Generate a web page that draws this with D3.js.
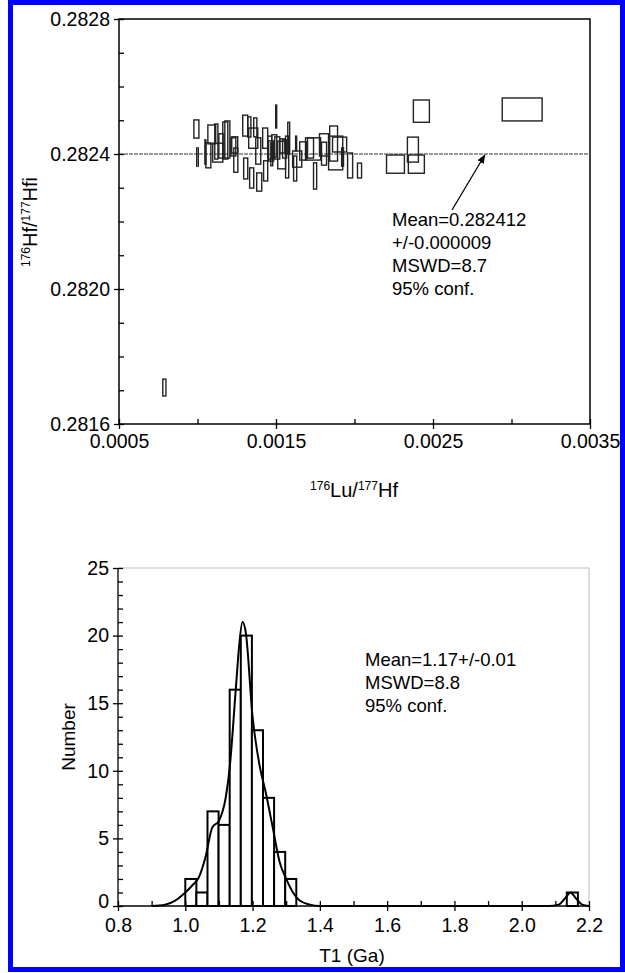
<!DOCTYPE html>
<html>
<head>
<meta charset="utf-8">
<script src="https://cdn.jsdelivr.net/npm/d3@7"></script>
<style>
  body { margin: 0; background: #fff; }
  text { font-family: "Liberation Sans", Arial, sans-serif; fill: #000; }
</style>
</head>
<body>
<script>
// ---- top panel: 176Lu/177Hf vs 176Hf/177Hfi error boxes ----
var luVal = [0.000993,0.00100,0.00105,0.001069,0.001091,0.001129,0.00112,0.001152,0.001177,0.00119,
             0.001228,0.001244,0.001237,0.001304,0.001307,0.00133,0.001355,0.001345,0.001368,0.001387,
             0.001393,0.001431,0.001434,0.00146,0.001469,0.001489,0.001508,0.00154,0.001501,0.001536,
             0.001571,0.001581,0.001635,0.001622,0.001628,0.001673,0.001736,0.00172,0.001749,0.001806,
             0.001806,0.001867,0.00188,0.001905,0.001924,0.001972,0.002032,0.002261,0.002372,0.002394,
             0.002426,0.003068,0.000789,0.001473,0.001555];
var luErr = [0.000016,0.000005,0.000003,0.000016,0.000025,0.000032,0.00001,0.000016,0.000016,0.000016,
             0.000016,0.000013,0.000019,0.000016,0.000013,0.00001,0.000029,0.000013,0.00001,0.000016,
             0.000016,0.000016,0.000013,0.000013,0.000016,0.000016,0.000016,0.000016,0.000003,0.000025,
             0.00001,0.000006,0.000029,0.00001,0.000003,0.000022,0.000048,0.000019,0.00001,0.000029,
             0.000016,0.000025,0.000045,0.000045,0.000006,0.000016,0.000013,0.000057,0.000035,0.000051,
             0.000051,0.000127,0.00001,0.000006,0.000013];
var hfVal = [0.282474,0.282391,0.282406,0.282396,0.282458,0.282404,0.282437,0.282424,0.28244,0.282443,
             0.282421,0.282382,0.282427,0.282484,0.282357,0.28248,0.282447,0.282329,0.282479,0.282409,
             0.282317,0.282447,0.28235,0.282419,0.282409,0.282424,0.282418,0.282424,0.282511,0.282397,
             0.282391,0.282447,0.282385,0.282357,0.282431,0.282409,0.282415,0.282418,0.282335,0.282427,
             0.282401,0.282431,0.282403,0.282428,0.282391,0.282366,0.282351,0.28237,0.282413,0.28237,
             0.282527,0.282532,0.281708,0.282399,0.282415];
var hfErr = [0.000027,0.000027,0.000036,0.000037,0.000028,0.000028,0.000052,0.000036,0.000055,0.000055,
             0.000027,0.000036,0.000024,0.000031,0.000031,0.00003,0.00003,0.00003,0.000028,0.000039,
             0.000027,0.00003,0.00003,0.000034,0.00003,0.000033,0.000033,0.000021,0.000034,0.000041,
             0.000062,0.000047,0.000024,0.000037,0.000022,0.000027,0.000033,0.00003,0.000039,0.000033,
             0.000034,0.000052,0.00005,0.000022,0.000027,0.000037,0.000022,0.000027,0.000037,0.000027,
             0.000033,0.000034,0.000025,0.000034,0.000027];
var meanLine = 0.2824;
var topNotes = ["Mean=0.282412", "+/-0.000009", "MSWD=8.7", "95% conf."];
var topYTicks = [0.2816, 0.2820, 0.2824, 0.2828];
var topXTicks = [0.0005, 0.0015, 0.0025, 0.0035];

// ---- bottom panel: T1 histogram + probability curve ----
var binLeft  = [1.000,1.033,1.066,1.099,1.132,1.165,1.198,1.231,1.264,1.297,2.134];
var binCount = [2,1,7,6,16,20,13,8,4,2,1];
var binWidth = 0.033;
var curveT = [0.90,0.94,0.97,1.00,1.02,1.04,1.06,1.08,1.10,1.12,1.133,1.15,1.16,1.17,1.18,1.20,1.22,1.24,1.26,1.28,1.30,1.32,1.34,1.37,1.40,
              2.08,2.11,2.13,2.145,2.16,2.18,2.20];
var curveN = [0,0.1,0.4,1.0,1.5,2.1,3.6,5.8,6.3,8.0,10.5,16,19.2,21,20.2,14,10.5,8.3,5.8,3.3,2.0,1.0,0.4,0.1,0,
              0,0.1,0.6,1.0,0.6,0.1,0];
var botNotes = ["Mean=1.17+/-0.01", "MSWD=8.8", "95% conf."];
var botYTicks = [0,5,10,15,20,25];
var botXTicks = [0.8,1.0,1.2,1.4,1.6,1.8,2.0,2.2];

var tickFont = "19.5px", noteFont = "18.5px", titleFont = "19px", isoFont = "20px", supFont = "12px";

var svg = d3.select("body").append("svg")
    .attr("width", 625)
    .attr("height", 973);

// blue page border
svg.append("rect")
    .attr("x", 10.5).attr("y", 2.5)
    .attr("width", 612).attr("height", 967)
    .attr("fill", "none").attr("stroke", "#0000ff").attr("stroke-width", 5);

// ================= top chart =================
var x1 = d3.scaleLinear().domain([0.0005, 0.0035]).range([119, 590]);
var y1 = d3.scaleLinear().domain([0.2816, 0.2828]).range([424, 19]);
var gTop = svg.append("g");

gTop.append("rect")
    .attr("x", x1(0.0005)).attr("y", y1(0.2828))
    .attr("width", x1(0.0035) - x1(0.0005)).attr("height", y1(0.2816) - y1(0.2828))
    .attr("fill", "none").attr("stroke", "#000").attr("stroke-width", 1.5);

// mean line
gTop.append("line")
    .attr("x1", x1(0.0005)).attr("x2", x1(0.0035))
    .attr("y1", y1(meanLine)).attr("y2", y1(meanLine))
    .attr("stroke", "#333").attr("stroke-width", 1).attr("stroke-dasharray", "4,1");

// error boxes
var boxes = d3.range(luVal.length);
gTop.selectAll(".box").data(boxes).enter().append("rect")
    .attr("class", "box")
    .attr("x", function(i) { return x1(luVal[i] - luErr[i]); })
    .attr("y", function(i) { return y1(hfVal[i] + hfErr[i]); })
    .attr("width", function(i) { return Math.max(1, x1(luVal[i] + luErr[i]) - x1(luVal[i] - luErr[i])); })
    .attr("height", function(i) { return y1(hfVal[i] - hfErr[i]) - y1(hfVal[i] + hfErr[i]); })
    .attr("fill", "none").attr("stroke", "#222").attr("stroke-width", 1.4);

// y axis: outside major ticks with labels, inside minor ticks
gTop.append("g")
    .attr("transform", "translate(" + x1(0.0005) + ",0)")
    .call(d3.axisLeft(y1).tickValues(topYTicks).tickSize(5).tickPadding(4).tickFormat(d3.format(".4f")))
    .call(function(g) { g.select(".domain").remove(); });
gTop.append("g")
    .attr("transform", "translate(" + x1(0.0005) + ",0)")
    .call(d3.axisRight(y1).ticks(12).tickSize(5).tickFormat(""))
    .call(function(g) { g.select(".domain").remove(); });
// x axis
gTop.append("g")
    .attr("transform", "translate(0," + y1(0.2816) + ")")
    .call(d3.axisBottom(x1).tickValues(topXTicks).tickSize(5).tickPadding(5).tickFormat(d3.format(".4f")))
    .call(function(g) { g.select(".domain").remove(); });
gTop.append("g")
    .attr("transform", "translate(0," + y1(0.2816) + ")")
    .call(d3.axisTop(x1).ticks(6).tickSize(5).tickFormat(""))
    .call(function(g) { g.select(".domain").remove(); });

gTop.selectAll(".tick text").style("font-size", tickFont);
gTop.selectAll(".tick line").attr("stroke-width", 1.3);

// arrow to mean line
var defs = svg.append("defs");
defs.append("marker")
    .attr("id", "arr").attr("viewBox", "0 0 10 10")
    .attr("refX", 9).attr("refY", 5)
    .attr("markerWidth", 7).attr("markerHeight", 7)
    .attr("orient", "auto")
  .append("path").attr("d", "M0,1 L10,5 L0,9 Z").attr("fill", "#000");
gTop.append("line")
    .attr("x1", 452).attr("y1", 210)
    .attr("x2", x1(0.00283)).attr("y2", y1(meanLine) + 1)
    .attr("stroke", "#000").attr("stroke-width", 1.3)
    .attr("marker-end", "url(#arr)");

gTop.selectAll(".note").data(topNotes).enter().append("text")
    .attr("x", 392).attr("y", function(d, i) { return 226 + i * 23; })
    .style("font-size", noteFont)
    .text(function(d) { return d; });

// axis titles
var xt = gTop.append("text").attr("x", 354).attr("y", 497)
    .attr("text-anchor", "middle").style("font-size", isoFont);
xt.append("tspan").attr("baseline-shift", "super").style("font-size", supFont).text("176");
xt.append("tspan").text("Lu/");
xt.append("tspan").attr("baseline-shift", "super").style("font-size", supFont).text("177");
xt.append("tspan").text("Hf");

var yt = gTop.append("text")
    .attr("transform", "translate(37,222) rotate(-90)")
    .attr("text-anchor", "middle").style("font-size", isoFont);
yt.append("tspan").attr("baseline-shift", "super").style("font-size", supFont).text("176");
yt.append("tspan").text("Hf/");
yt.append("tspan").attr("baseline-shift", "super").style("font-size", supFont).text("177");
yt.append("tspan").text("Hfi");

// ================= bottom chart =================
var x2 = d3.scaleLinear().domain([0.8, 2.2]).range([118, 589]);
var y2 = d3.scaleLinear().domain([0, 25]).range([906, 568]);
var gBot = svg.append("g");

// light frame top/right
gBot.append("path")
    .attr("d", "M" + x2(0.8) + "," + y2(25) + "H" + x2(2.2) + "V" + y2(0))
    .attr("fill", "none").attr("stroke", "#bbb").attr("stroke-width", 1);

gBot.selectAll(".bar").data(binLeft).enter().append("rect")
    .attr("class", "bar")
    .attr("x", function(d) { return x2(d); })
    .attr("y", function(d, i) { return y2(binCount[i]); })
    .attr("width", function(d) { return x2(d + binWidth) - x2(d); })
    .attr("height", function(d, i) { return y2(0) - y2(binCount[i]); })
    .attr("fill", "#fff").attr("stroke", "#000").attr("stroke-width", 2);

var line = d3.line()
    .x(function(d) { return x2(d[0]); })
    .y(function(d) { return y2(d[1]); })
    .curve(d3.curveMonotoneX);
gBot.append("path")
    .datum(curveT.map(function(t, i) { return [t, curveN[i]]; }))
    .attr("d", line)
    .attr("fill", "none").attr("stroke", "#000").attr("stroke-width", 2);

gBot.append("g")
    .attr("transform", "translate(" + x2(0.8) + ",0)")
    .call(d3.axisLeft(y2).tickValues(botYTicks).tickSize(5).tickPadding(4))
    .call(function(g) { g.select(".domain").attr("d", "M0," + y2(25) + "V" + y2(0)); });
gBot.append("g")
    .attr("transform", "translate(" + x2(0.8) + ",0)")
    .call(d3.axisRight(y2).ticks(25).tickSize(5).tickFormat(""))
    .call(function(g) { g.select(".domain").remove(); });
gBot.append("g")
    .attr("transform", "translate(0," + y2(0) + ")")
    .call(d3.axisBottom(x2).tickValues(botXTicks).tickSize(5).tickPadding(7).tickFormat(d3.format(".1f")))
    .call(function(g) { g.select(".domain").attr("d", "M" + x2(0.8) + ",0H" + x2(2.2)); });
gBot.append("g")
    .attr("transform", "translate(0," + y2(0) + ")")
    .call(d3.axisTop(x2).ticks(14).tickSize(5).tickFormat(""))
    .call(function(g) { g.select(".domain").remove(); });

gBot.selectAll(".tick text").style("font-size", tickFont);
gBot.selectAll(".tick line, .domain").attr("stroke-width", 1.3);
// lift the "0" label a little so it clears the 0.8 label below it
gBot.selectAll(".tick text").filter(function(d) { return d === 0; }).attr("dy", "0.1em");

gBot.selectAll(".note").data(botNotes).enter().append("text")
    .attr("x", 365).attr("y", function(d, i) { return 666 + i * 23; })
    .style("font-size", noteFont)
    .text(function(d) { return d; });

gBot.append("text").attr("x", 352).attr("y", 962)
    .attr("text-anchor", "middle").style("font-size", titleFont).text("T1 (Ga)");
gBot.append("text")
    .attr("transform", "translate(75,737) rotate(-90)")
    .attr("text-anchor", "middle").style("font-size", titleFont).text("Number");
</script>
</body>
</html>
